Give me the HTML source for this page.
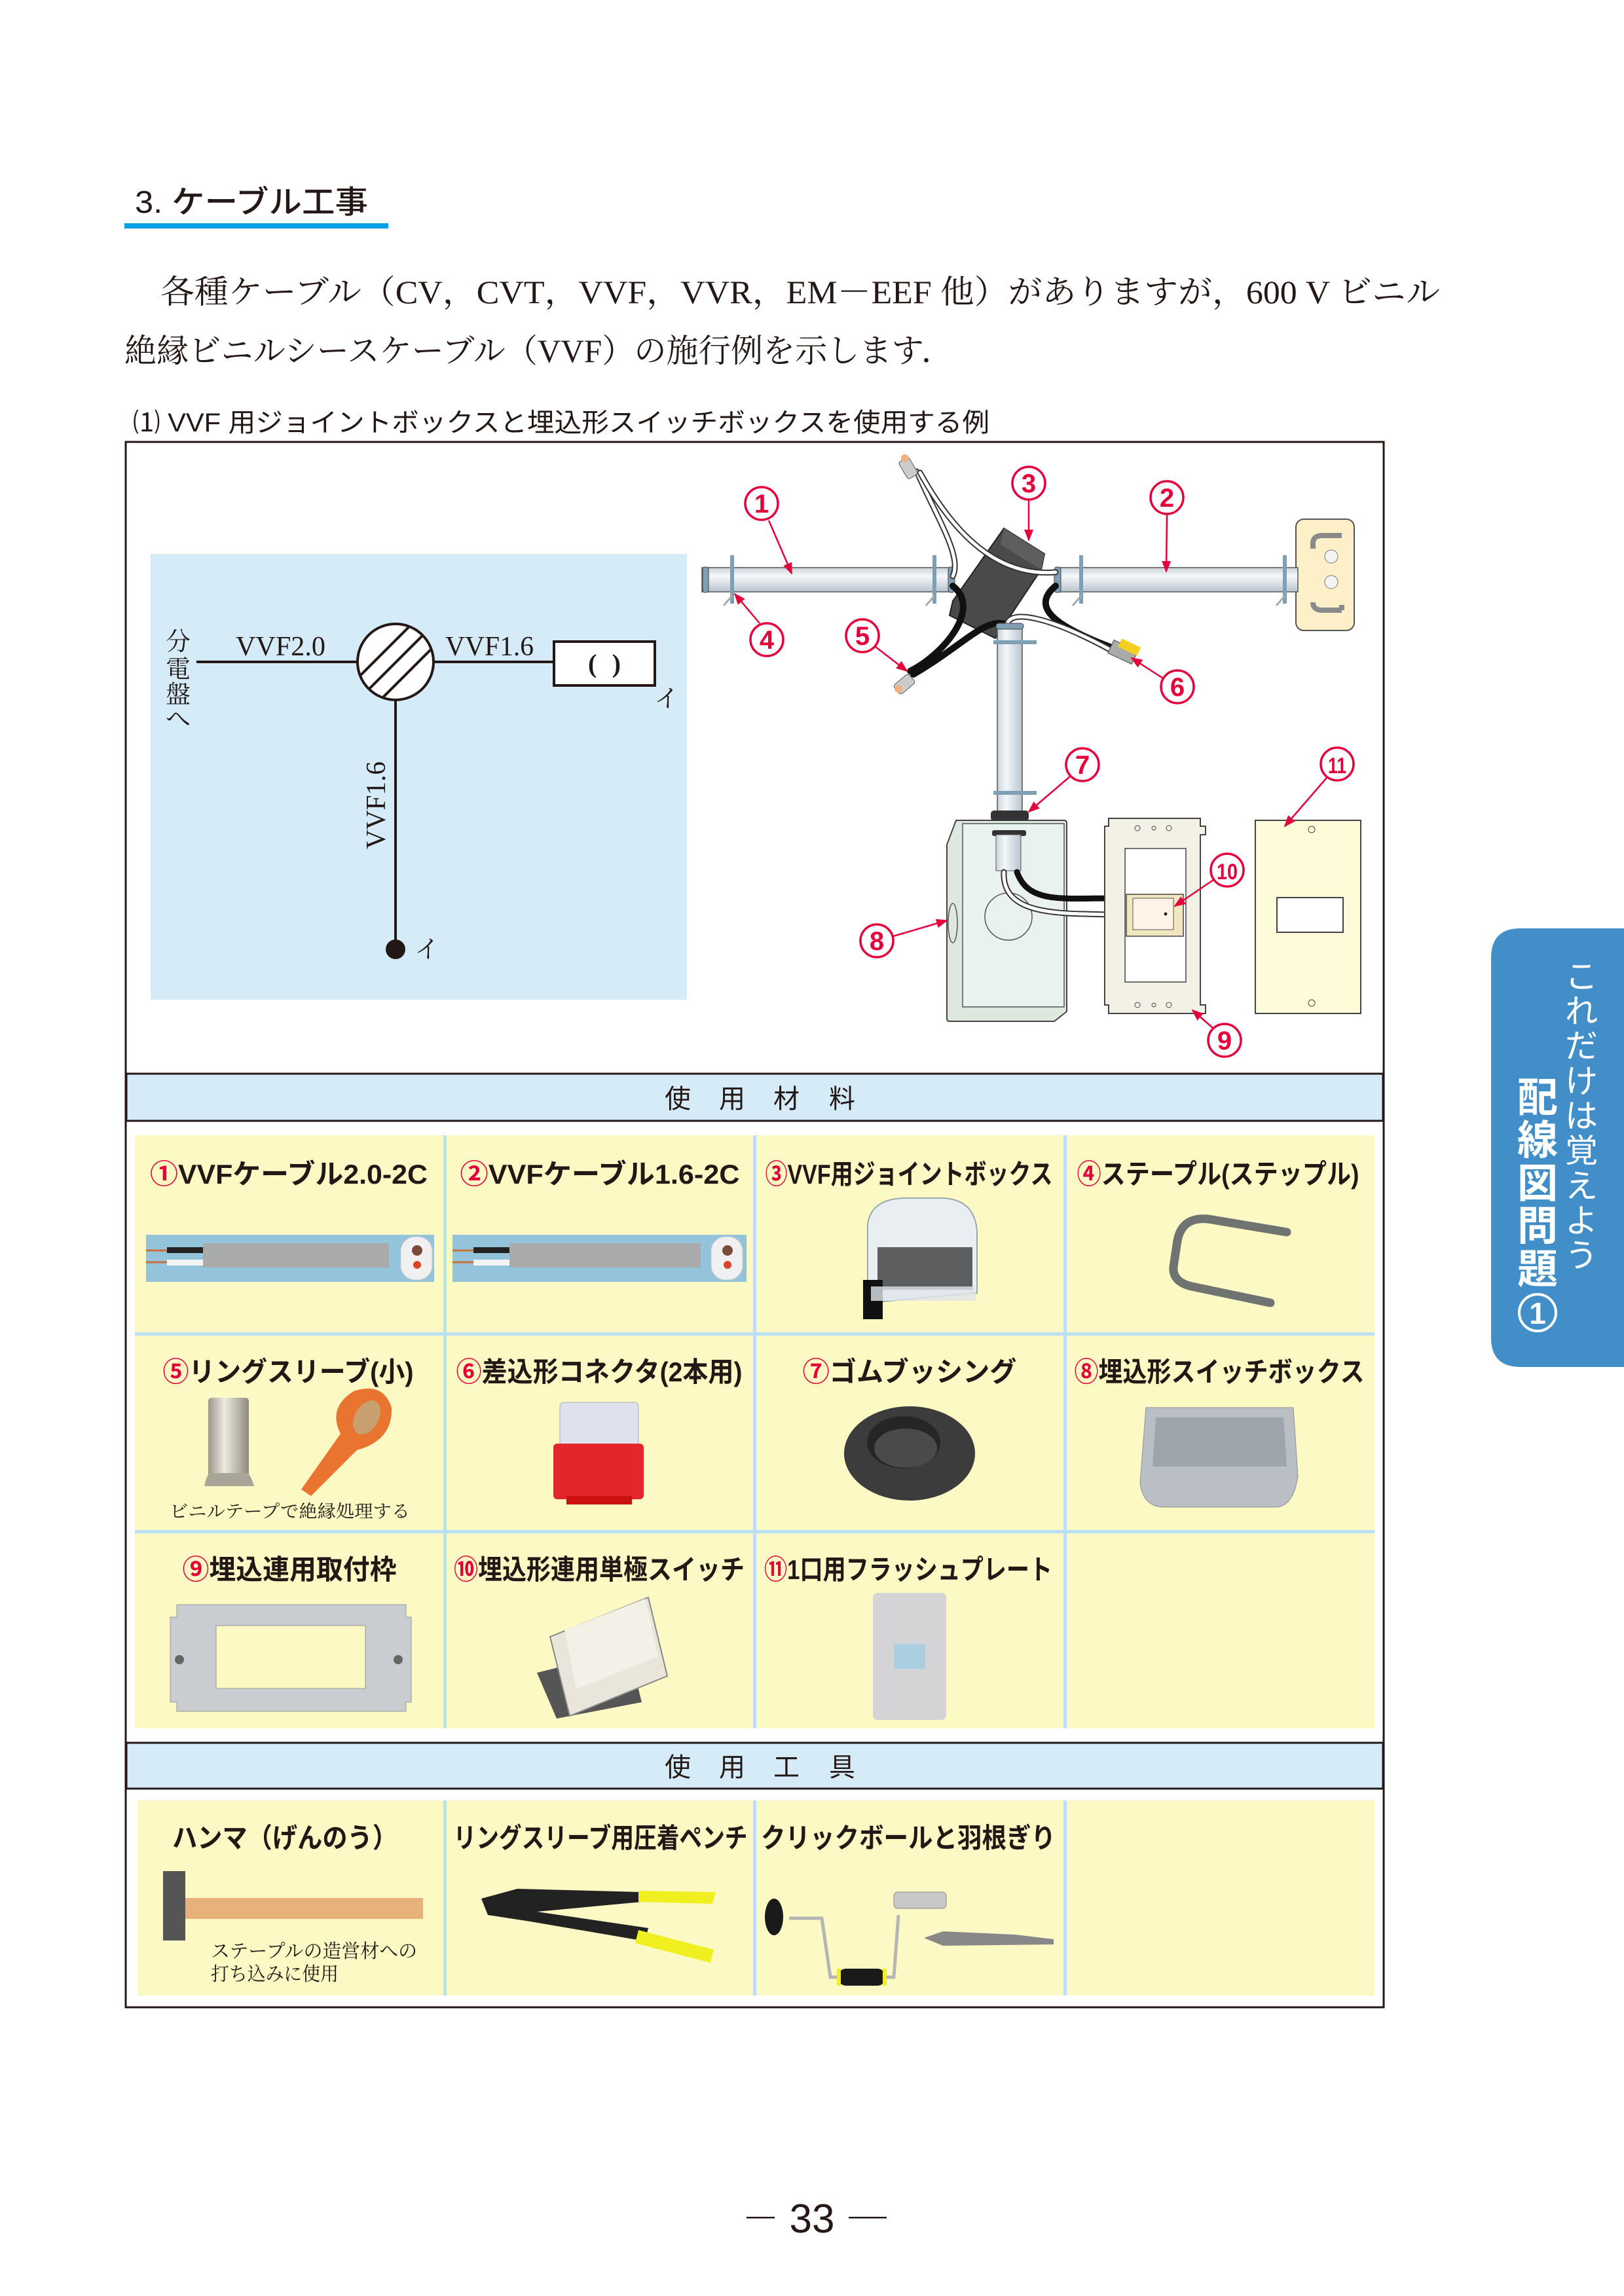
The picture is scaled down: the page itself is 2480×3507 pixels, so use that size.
<!DOCTYPE html>
<html><head><meta charset="utf-8"><style>
html,body{margin:0;padding:0;background:#fff}
svg{display:block}
.s{font-family:"Liberation Sans","Noto Sans CJK JP",sans-serif}
.r{font-family:"Liberation Serif","Noto Serif CJK SC",serif}
.t{font-family:"Liberation Sans","Noto Sans CJK JP",sans-serif;font-weight:700;font-size:42px;fill:#231815}
.red{fill:#e4003a}
</style></head><body>
<svg width="2480" height="3507" viewBox="0 0 2480 3507" xmlns="http://www.w3.org/2000/svg">
<defs>
<marker id="ah" markerUnits="userSpaceOnUse" markerWidth="18" markerHeight="14" refX="16" refY="7" orient="auto"><path d="M0,0 L18,7 L0,14 Z" fill="#e4003a"/></marker>
<linearGradient id="cab" x1="0" y1="0" x2="0" y2="1"><stop offset="0" stop-color="#c9d3dc"/><stop offset="0.35" stop-color="#f6f8fa"/><stop offset="1" stop-color="#b8c4ce"/></linearGradient>
<linearGradient id="cabv" x1="0" y1="0" x2="1" y2="0"><stop offset="0" stop-color="#c9d3dc"/><stop offset="0.35" stop-color="#f6f8fa"/><stop offset="1" stop-color="#b8c4ce"/></linearGradient>
<linearGradient id="silver" x1="0" y1="0" x2="1" y2="0"><stop offset="0" stop-color="#9c978c"/><stop offset="0.4" stop-color="#eeeae0"/><stop offset="1" stop-color="#8f8a80"/></linearGradient>
<clipPath id="cc"><circle cx="604" cy="1011" r="58"/></clipPath>
</defs>

<text x="206" y="325" class="s" font-size="48" font-weight="500" fill="#231815" textLength="356" lengthAdjust="spacingAndGlyphs">3. ケーブル工事</text>
<rect x="190" y="341" width="403" height="8" fill="#00a0e9"/>
<text x="245" y="463" class="r" font-size="50" fill="#231815" textLength="1954" lengthAdjust="spacingAndGlyphs">各種ケーブル（CV，CVT，VVF，VVR，EM－EEF 他）がありますが，600 V ビニル</text>
<text x="190" y="553" class="r" font-size="50" fill="#231815" textLength="1266" lengthAdjust="spacingAndGlyphs">絶縁ビニルシースケーブル（VVF）の施行例を示します．</text>
<text x="203" y="659" class="s" font-size="40" fill="#231815" textLength="1308" lengthAdjust="spacingAndGlyphs">⑴ VVF 用ジョイントボックスと埋込形スイッチボックスを使用する例</text>

<rect x="192" y="675" width="1921" height="2391" fill="#fff" stroke="#231815" stroke-width="3"/>

<rect x="230" y="846" width="819" height="681" fill="#d5ecf8"/>
<g stroke="#231815" stroke-width="4" fill="none">
<line x1="300" y1="1011" x2="546" y2="1011"/>
<line x1="662" y1="1011" x2="846" y2="1011"/>
<line x1="604" y1="1069" x2="604" y2="1448"/>
<rect x="846" y="980" width="154" height="67" fill="#fff"/>
<circle cx="604" cy="1011" r="58" fill="#fff"/>
<g clip-path="url(#cc)"><line x1="520" y1="1062" x2="656" y2="926"/><line x1="537" y1="1079" x2="673" y2="943"/><line x1="554" y1="1096" x2="690" y2="960"/></g>
</g>
<circle cx="604" cy="1450" r="15" fill="#231815"/>
<text x="360" y="1001" class="r" font-size="42" fill="#231815" textLength="137" lengthAdjust="spacingAndGlyphs">VVF2.0</text>
<text x="680" y="1001" class="r" font-size="42" fill="#231815" textLength="135" lengthAdjust="spacingAndGlyphs">VVF1.6</text>
<text transform="translate(588,1297) rotate(-90)" class="r" font-size="42" fill="#231815" textLength="134" lengthAdjust="spacingAndGlyphs">VVF1.6</text>
<g class="r" font-size="38" fill="#231815" text-anchor="middle">
<text x="272" y="993">分</text><text x="272" y="1035">電</text><text x="272" y="1074">盤</text><text x="272" y="1111">へ</text>
<text x="923" y="1027" font-size="40" font-weight="700" textLength="50" lengthAdjust="spacing">( )</text>
<text x="1018" y="1080">イ</text><text x="652" y="1463">イ</text>
</g>

<rect x="1979" y="793" width="89" height="170" rx="12" fill="#fdf0c8" stroke="#555" stroke-width="2"/>
<path d="M2005,830 q0,-12 14,-12 h30 M2005,830 v8" stroke="#8a8a8a" stroke-width="8" fill="none"/>
<path d="M2005,920 q0,12 14,12 h30 M2049,932 v-8" stroke="#8a8a8a" stroke-width="8" fill="none"/>
<circle cx="2033" cy="850" r="10" fill="#f4f4f4" stroke="#777"/><circle cx="2033" cy="889" r="10" fill="#f4f4f4" stroke="#777"/>
<rect x="1072" y="867" width="383" height="37" fill="url(#cab)" stroke="#555" stroke-width="1.5"/>
<rect x="1612" y="867" width="370" height="37" fill="url(#cab)" stroke="#555" stroke-width="1.5"/>
<rect x="1073" y="866" width="9" height="39" rx="4" fill="#7f9fb5" stroke="#444"/>
<rect x="1448" y="866" width="10" height="39" rx="4" fill="#7f9fb5" stroke="#444"/>
<rect x="1610" y="866" width="10" height="39" rx="4" fill="#7f9fb5" stroke="#444"/>
<g fill="#7f9fb5"><rect x="1115" y="848" width="6" height="74"/><rect x="1424" y="848" width="6" height="74"/><rect x="1648" y="848" width="6" height="74"/><rect x="1959" y="848" width="6" height="74"/></g>
<g stroke="#aaa" stroke-width="3"><line x1="1105" y1="925" x2="1118" y2="910"/><line x1="1414" y1="925" x2="1427" y2="910"/><line x1="1638" y1="925" x2="1651" y2="910"/><line x1="1949" y1="925" x2="1962" y2="910"/></g>
<polygon points="1533,807 1595,846 1590,870 1520,975 1450,940 1455,918" fill="#4a4a4a" stroke="#222" stroke-width="2"/>
<polygon points="1533,807 1595,846 1590,870 1528,832" fill="#5e5e5e"/>
<g fill="none" stroke-linecap="round">
<path d="M1455,880 C1470,850 1430,790 1400,720" stroke="#333" stroke-width="9"/><path d="M1455,880 C1470,850 1430,790 1400,720" stroke="#fff" stroke-width="5"/>
<path d="M1612,874 C1540,880 1470,840 1405,722" stroke="#333" stroke-width="9"/><path d="M1612,874 C1540,880 1470,840 1405,722" stroke="#fff" stroke-width="5"/>
<path d="M1455,895 C1500,930 1440,1000 1390,1025" stroke="#111" stroke-width="10"/>
<path d="M1612,895 C1570,930 1620,960 1700,990" stroke="#111" stroke-width="10"/>
<path d="M1545,958 C1510,935 1480,980 1395,1030" stroke="#111" stroke-width="10"/>
<path d="M1538,955 C1540,930 1600,940 1700,995" stroke="#333" stroke-width="9"/><path d="M1538,955 C1540,930 1600,940 1700,995" stroke="#fff" stroke-width="5"/>
</g>
<g><rect x="1378" y="700" width="18" height="30" rx="4" fill="#ccc" stroke="#555" transform="rotate(-30 1387 715)"/><circle cx="1382" cy="700" r="6" fill="#f0b080"/></g>
<g><rect x="1372" y="1030" width="18" height="30" rx="4" fill="#ccc" stroke="#555" transform="rotate(-130 1381 1045)"/><circle cx="1372" cy="1052" r="6" fill="#f0b080"/></g>
<g transform="rotate(25 1715 995)"><rect x="1695" y="985" width="40" height="22" fill="#aaa" stroke="#444"/><rect x="1705" y="978" width="32" height="14" fill="#f3d020"/></g>
<rect x="1523" y="955" width="38" height="288" fill="url(#cabv)" stroke="#555" stroke-width="1.5"/>
<rect x="1521" y="952" width="42" height="9" rx="4" fill="#7f9fb5" stroke="#444"/>
<rect x="1517" y="978" width="66" height="6" fill="#7f9fb5"/><rect x="1517" y="1208" width="66" height="6" fill="#7f9fb5"/>
<path d="M1460,1253 H1625 Q1629,1253 1629,1258 V1545 L1610,1560 H1450 Q1446,1560 1446,1555 V1290 Z" fill="#dfe8df" stroke="#444" stroke-width="2"/>
<rect x="1470" y="1258" width="155" height="280" fill="#eaf2f0" stroke="#555" stroke-width="1.5"/>
<rect x="1513" y="1238" width="58" height="16" rx="5" fill="#333"/>
<rect x="1515" y="1268" width="52" height="9" rx="3" fill="#333"/>
<rect x="1521" y="1275" width="38" height="55" fill="url(#cabv)" stroke="#555"/>
<circle cx="1540" cy="1400" r="36" fill="none" stroke="#555" stroke-width="1.5"/>
<ellipse cx="1455" cy="1410" rx="7" ry="30" fill="none" stroke="#555" stroke-width="1.5"/>
<g fill="none" stroke-linecap="round">
<path d="M1553,1332 C1570,1380 1620,1372 1700,1372" stroke="#111" stroke-width="9"/>
<path d="M1533,1332 C1530,1400 1620,1395 1700,1397" stroke="#333" stroke-width="9"/><path d="M1533,1332 C1530,1400 1620,1395 1700,1397" stroke="#fff" stroke-width="5"/>
</g>
<path d="M1693,1250 H1833 V1262 H1841 V1275 H1833 V1535 H1841 V1548 H1693 V1535 H1687 V1262 H1693 Z" fill="#f3f1e6" stroke="#444" stroke-width="2"/>
<rect x="1718" y="1296" width="93" height="204" fill="#fff" stroke="#444" stroke-width="1.5"/>
<circle cx="1737" cy="1265" r="4" fill="none" stroke="#444"/><circle cx="1762" cy="1265" r="3" fill="none" stroke="#444"/><circle cx="1785" cy="1265" r="4" fill="none" stroke="#444"/>
<circle cx="1737" cy="1535" r="4" fill="none" stroke="#444"/><circle cx="1762" cy="1535" r="3" fill="none" stroke="#444"/><circle cx="1785" cy="1535" r="4" fill="none" stroke="#444"/>
<rect x="1720" y="1366" width="87" height="64" fill="#f2e6c0" stroke="#444" stroke-width="1.5"/>
<rect x="1730" y="1372" width="62" height="48" fill="#fdf3e6" stroke="#555"/>
<circle cx="1780" cy="1396" r="2.5" fill="#222"/>
<rect x="1917" y="1253" width="161" height="295" fill="#fefbd8" stroke="#444" stroke-width="2"/>
<rect x="1950" y="1371" width="101" height="53" fill="#fff" stroke="#444" stroke-width="2"/>
<circle cx="2003" cy="1267" r="5" fill="none" stroke="#444"/><circle cx="2003" cy="1532" r="5" fill="none" stroke="#444"/>
<g stroke="#e4003a" stroke-width="2.5" marker-end="url(#ah)">
<line x1="1174" y1="795" x2="1209" y2="876"/>
<line x1="1782" y1="786" x2="1781" y2="873"/>
<line x1="1571" y1="764" x2="1571" y2="825"/>
<line x1="1160" y1="952" x2="1122" y2="907"/>
<line x1="1337" y1="988" x2="1385" y2="1025"/>
<line x1="1776" y1="1036" x2="1728" y2="1005"/>
<line x1="1634" y1="1186" x2="1571" y2="1240"/>
<line x1="1364" y1="1430" x2="1446" y2="1406"/>
<line x1="1852" y1="1570" x2="1821" y2="1543"/>
<line x1="1853" y1="1344" x2="1794" y2="1384"/>
<line x1="2026" y1="1188" x2="1962" y2="1262"/>
</g>
<g fill="#fff" stroke="#e4003a" stroke-width="3.5">
<circle cx="1163" cy="769" r="25"/><circle cx="1782" cy="760" r="25"/><circle cx="1571" cy="738" r="25"/><circle cx="1171" cy="977" r="25"/><circle cx="1317" cy="971" r="25"/><circle cx="1798" cy="1049" r="25"/><circle cx="1653" cy="1168" r="25"/><circle cx="1339" cy="1437" r="25"/><circle cx="1870" cy="1589" r="25"/><circle cx="1874" cy="1329" r="25"/><circle cx="2042" cy="1167" r="25"/>
</g>
<g class="s" font-size="40" font-weight="700" fill="#e4003a" text-anchor="middle">
<text x="1163" y="783">1</text><text x="1782" y="774">2</text><text x="1571" y="752">3</text><text x="1171" y="991">4</text><text x="1317" y="985">5</text><text x="1798" y="1063">6</text><text x="1653" y="1182">7</text><text x="1339" y="1451">8</text><text x="1870" y="1603">9</text><text x="1874" y="1343" font-size="34" textLength="32" lengthAdjust="spacingAndGlyphs">10</text><text x="2042" y="1181" font-size="34" textLength="28" lengthAdjust="spacingAndGlyphs">11</text>
</g>

<rect x="193" y="1640" width="1919" height="72" fill="#d5ecf8" stroke="#231815" stroke-width="3"/>
<g class="s" font-size="40" fill="#231815" text-anchor="middle"><text x="1035" y="1692">使</text><text x="1118" y="1692">用</text><text x="1201" y="1692">材</text><text x="1286" y="1692">料</text></g>

<rect x="206" y="1734" width="1893" height="906" fill="#b9e0f5"/>
<g fill="#fdf9c4">
<rect x="206" y="1734" width="471" height="301"/><rect x="682" y="1734" width="468" height="301"/><rect x="1155" y="1734" width="469" height="301"/><rect x="1629" y="1734" width="470" height="301"/>
<rect x="206" y="2040" width="471" height="297"/><rect x="682" y="2040" width="468" height="297"/><rect x="1155" y="2040" width="469" height="297"/><rect x="1629" y="2040" width="470" height="297"/>
<rect x="206" y="2342" width="471" height="298"/><rect x="682" y="2342" width="468" height="298"/><rect x="1155" y="2342" width="469" height="298"/><rect x="1629" y="2342" width="470" height="298"/>
</g>
<g class="t" text-anchor="middle">
<text x="441" y="1808" textLength="424" lengthAdjust="spacingAndGlyphs"><tspan class="red">①</tspan>VVFケーブル2.0-2C</text>
<text x="916" y="1808" textLength="427" lengthAdjust="spacingAndGlyphs"><tspan class="red">②</tspan>VVFケーブル1.6-2C</text>
<text x="1388" y="1808" textLength="439" lengthAdjust="spacingAndGlyphs"><tspan class="red">③</tspan>VVF用ジョイントボックス</text>
<text x="1860" y="1808" textLength="431" lengthAdjust="spacingAndGlyphs"><tspan class="red">④</tspan>ステープル(ステップル)</text>
<text x="440" y="2110" textLength="383" lengthAdjust="spacingAndGlyphs"><tspan class="red">⑤</tspan>リングスリーブ(小)</text>
<text x="915" y="2110" textLength="437" lengthAdjust="spacingAndGlyphs"><tspan class="red">⑥</tspan>差込形コネクタ(2本用)</text>
<text x="1389" y="2110" textLength="327" lengthAdjust="spacingAndGlyphs"><tspan class="red">⑦</tspan>ゴムブッシング</text>
<text x="1862" y="2110" textLength="443" lengthAdjust="spacingAndGlyphs"><tspan class="red">⑧</tspan>埋込形スイッチボックス</text>
<text x="442" y="2412" textLength="327" lengthAdjust="spacingAndGlyphs"><tspan class="red">⑨</tspan>埋込連用取付枠</text>
<text x="915" y="2412" textLength="444" lengthAdjust="spacingAndGlyphs"><tspan class="red">⑩</tspan>埋込形連用単極スイッチ</text>
<text x="1387" y="2412" textLength="440" lengthAdjust="spacingAndGlyphs"><tspan class="red">⑪</tspan>1口用フラッシュプレート</text>
</g>
<g>
<rect x="223" y="1886" width="440" height="72" fill="#93c4dc"/>
<line x1="223" y1="1910" x2="260" y2="1910" stroke="#c8703a" stroke-width="3"/><line x1="223" y1="1928" x2="260" y2="1928" stroke="#c8703a" stroke-width="3"/>
<rect x="255" y="1905" width="58" height="9" fill="#222"/><rect x="255" y="1924" width="58" height="9" fill="#f4f4f4"/>
<rect x="310" y="1899" width="284" height="37" fill="#a8abaa"/>
<rect x="612" y="1889" width="48" height="66" rx="22" fill="#f0f0f0" stroke="#ccc"/>
<circle cx="637" cy="1910" r="8" fill="#7a4a3a"/><circle cx="637" cy="1932" r="6" fill="#d9442a"/>
</g>
<g transform="translate(468,0)">
<rect x="223" y="1886" width="449" height="72" fill="#93c4dc"/>
<line x1="223" y1="1910" x2="260" y2="1910" stroke="#c8703a" stroke-width="3"/><line x1="223" y1="1928" x2="260" y2="1928" stroke="#c8703a" stroke-width="3"/>
<rect x="255" y="1905" width="58" height="9" fill="#222"/><rect x="255" y="1924" width="58" height="9" fill="#f4f4f4"/>
<rect x="310" y="1899" width="292" height="37" fill="#a8abaa"/>
<rect x="618" y="1889" width="48" height="66" rx="22" fill="#f0f0f0" stroke="#ccc"/>
<circle cx="643" cy="1910" r="8" fill="#7a4a3a"/><circle cx="643" cy="1932" r="6" fill="#d9442a"/>
</g>
<path d="M1325,1990 V1870 Q1330,1832 1380,1830 H1440 Q1488,1832 1492,1880 V1975 Z" fill="#e8eef2" stroke="#9aa" stroke-width="2"/>
<rect x="1340" y="1905" width="145" height="65" fill="#3a3a3a" opacity="0.8"/>
<rect x="1318" y="1955" width="30" height="60" fill="#111"/>
<rect x="1330" y="1965" width="160" height="22" fill="#dfe5ea" opacity="0.8"/>
<path d="M1965,1882 L1845,1862 Q1805,1858 1798,1895 L1792,1935 Q1790,1960 1825,1966 L1940,1990" fill="none" stroke="#6f7470" stroke-width="13" stroke-linecap="round"/>
<rect x="318" y="2135" width="62" height="125" rx="5" fill="url(#silver)"/>
<path d="M312,2270 Q315,2255 320,2250 H378 Q384,2255 388,2270 Z" fill="#a8a498"/>
<path d="M460,2275 L520,2190 Q500,2150 540,2125 Q585,2110 598,2150 Q600,2200 545,2215 L475,2285 Z" fill="#e8742f"/>
<ellipse cx="560" cy="2165" rx="18" ry="28" fill="#c8a070" transform="rotate(30 560 2165)"/>
<text x="259" y="2318" class="r" font-size="27" fill="#231815" textLength="367" lengthAdjust="spacingAndGlyphs">ビニルテープで絶縁処理する</text>
<rect x="855" y="2142" width="120" height="80" rx="6" fill="#dde2ec" stroke="#aab"/>
<rect x="845" y="2205" width="138" height="85" rx="6" fill="#e2262c"/>
<rect x="865" y="2285" width="100" height="13" fill="#c11"/>
<ellipse cx="1389" cy="2220" rx="100" ry="72" fill="#3c3c3c"/>
<ellipse cx="1380" cy="2203" rx="56" ry="40" fill="#262626"/>
<ellipse cx="1383" cy="2212" rx="48" ry="30" fill="#4a4a4a"/>
<path d="M1750,2150 H1975 L1982,2255 Q1975,2300 1950,2302 H1775 Q1745,2300 1741,2265 Z" fill="#b9bfc5" stroke="#8a9096"/>
<path d="M1765,2165 H1960 L1965,2240 H1760 Z" fill="#9ea5ad"/>
<path d="M270,2451 H620 V2470 H628 V2600 H620 V2614 H270 V2600 H260 V2470 H270 Z" fill="#c9ccd0" stroke="#999"/>
<rect x="330" y="2483" width="228" height="96" fill="#fdf9c4" stroke="#999"/>
<circle cx="274" cy="2535" r="7" fill="#666"/><circle cx="608" cy="2535" r="7" fill="#666"/>
<polygon points="820,2555 960,2520 980,2600 850,2625" fill="#555"/>
<polygon points="840,2500 990,2440 1019,2560 870,2621" fill="#e9e5da" stroke="#888" stroke-width="2"/>
<polygon points="862,2490 985,2442 1005,2530 880,2580" fill="#f3f0e8"/>
<rect x="1333" y="2433" width="112" height="194" rx="7" fill="#d4d4d6"/>
<rect x="1365" y="2511" width="48" height="38" fill="#a9cfe0"/>

<rect x="193" y="2662" width="1919" height="70" fill="#d5ecf8" stroke="#231815" stroke-width="3"/>
<g class="s" font-size="40" fill="#231815" text-anchor="middle"><text x="1035" y="2713">使</text><text x="1118" y="2713">用</text><text x="1201" y="2713">工</text><text x="1286" y="2713">具</text></g>
<rect x="210" y="2750" width="1889" height="298" fill="#b9e0f5"/>
<g fill="#fdf9c4">
<rect x="210" y="2750" width="467" height="298"/><rect x="682" y="2750" width="468" height="298"/><rect x="1155" y="2750" width="469" height="298"/><rect x="1629" y="2750" width="470" height="298"/>
</g>
<g class="t" text-anchor="middle">
<text x="435" y="2822" textLength="344" lengthAdjust="spacingAndGlyphs">ハンマ（げんのう）</text>
<text x="917" y="2822" textLength="449" lengthAdjust="spacingAndGlyphs">リングスリーブ用圧着ペンチ</text>
<text x="1387" y="2822" textLength="450" lengthAdjust="spacingAndGlyphs">クリックボールと羽根ぎり</text>
</g>
<rect x="283" y="2899" width="363" height="32" fill="#e6b27a"/>
<rect x="249" y="2858" width="34" height="106" fill="#555"/>
<text x="322" y="2990" class="r" font-size="29" fill="#231815" textLength="315" lengthAdjust="spacingAndGlyphs">ステープルの造営材への</text>
<text x="322" y="3025" class="r" font-size="29" fill="#231815" textLength="195" lengthAdjust="spacingAndGlyphs">打ち込みに使用</text>
<polygon points="735,2900 790,2885 980,2890 980,2905 820,2920 990,2945 985,2965 810,2935 745,2925" fill="#222"/>
<polygon points="975,2888 1093,2890 1088,2908 975,2905" fill="#f0ef20"/>
<polygon points="975,2948 1090,2978 1085,2998 970,2968" fill="#f0ef20"/>
<polyline points="1205,2930 1255,2930 1268,3020 1365,3020 1372,2925" fill="none" stroke="#b5b5b5" stroke-width="5"/>
<ellipse cx="1182" cy="2928" rx="14" ry="28" fill="#1a1a1a"/>
<rect x="1280" y="3007" width="72" height="26" rx="12" fill="#1a1a1a"/>
<rect x="1278" y="3007" width="6" height="26" fill="#f0ef20"/><rect x="1348" y="3007" width="6" height="26" fill="#f0ef20"/>
<rect x="1365" y="2890" width="80" height="25" rx="6" fill="#c8c8c8" stroke="#888"/>
<polygon points="1411,2960 1440,2950 1550,2955 1609,2962 1609,2970 1440,2972" fill="#888"/>

<g class="s" fill="#231815">
<rect x="1140" y="3386" width="43" height="2.5"/><rect x="1296" y="3386" width="58" height="2.5"/>
<text x="1240" y="3410" font-size="62" text-anchor="middle">33</text>
</g>

<path d="M2480,1418 H2322 Q2277,1418 2277,1463 V2043 Q2277,2088 2322,2088 H2480 Z" fill="#428ec9"/>
<g class="s" font-size="50" fill="#fff" text-anchor="middle">
<text x="2415" y="1509">こ</text><text x="2415" y="1562">れ</text><text x="2415" y="1615">だ</text><text x="2415" y="1669">け</text><text x="2415" y="1722">は</text><text x="2415" y="1775">覚</text><text x="2415" y="1829">え</text><text x="2415" y="1882">よ</text><text x="2415" y="1935">う</text>
</g>
<g class="s" font-size="62" font-weight="700" fill="#fff" text-anchor="middle">
<text x="2348" y="1698">配</text><text x="2348" y="1763">線</text><text x="2348" y="1829">図</text><text x="2348" y="1894">問</text><text x="2348" y="1960">題</text>
</g>
<circle cx="2348" cy="2005" r="28" fill="none" stroke="#fff" stroke-width="4"/>
<text x="2348" y="2022" class="s" font-size="46" font-weight="700" fill="#fff" text-anchor="middle">1</text>
</svg>
</body></html>
